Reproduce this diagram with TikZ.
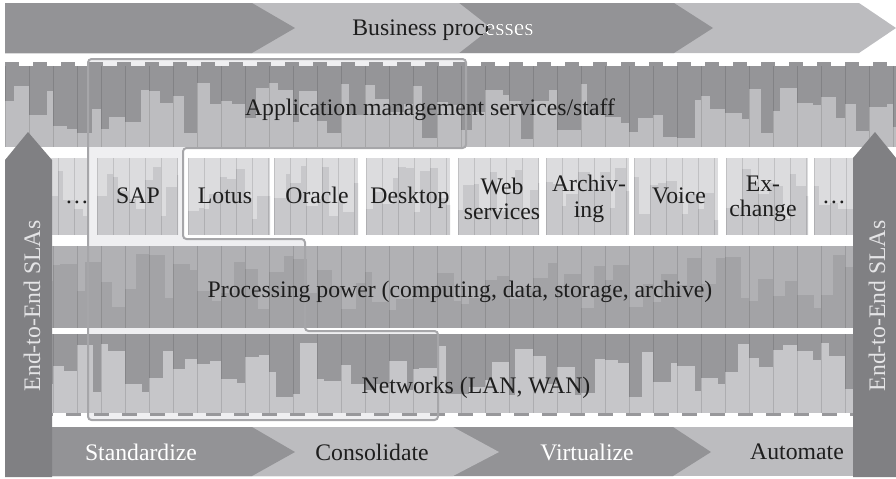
\documentclass[tikz,border=0pt]{standalone}
\usepackage{fontspec}
\setmainfont{Liberation Serif}
\usetikzlibrary{positioning}
\definecolor{ciDark}{HTML}{939396}
\definecolor{ciLight}{HTML}{BCBCBF}
\definecolor{ciSla}{HTML}{808083}
\definecolor{ciSlaText}{HTML}{E4E4E6}
\definecolor{ciHalo}{HTML}{EFEFF1}
\definecolor{ciFrame}{HTML}{A6A6A9}
\definecolor{ciAppL}{HTML}{BDBDC0}
\definecolor{ciAppD}{HTML}{959598}
\definecolor{ciProcL}{HTML}{B1B1B4}
\definecolor{ciProcD}{HTML}{A3A3A6}
\definecolor{ciNetD}{HTML}{98989B}
\definecolor{ciNetL}{HTML}{C6C6C9}
\definecolor{ciBoxL}{HTML}{DCDCDE}
\definecolor{ciBoxD}{HTML}{C8C8CB}
\definecolor{ciInk}{HTML}{1E1E1E}
\tikzset{
  ci-label/.style={font=\fontsize{13.5}{14.5}\selectfont, text=ciInk,
    align=center, inner sep=0pt},
  ci-label-w/.style={ci-label, text=white},
  ci-sla-text/.style={ci-label, text=ciSlaText, rotate=90},
  ci-sep/.style={draw=black, opacity=0.12, line width=0.35pt},
  ci-frame/.style={draw=ciFrame, line width=0.4mm, rounded corners=2}
}
% bars: x0, y0, x1, y1, bar colour, from bottom (1) or top (0), column width
\newcommand{\ciBars}[7]{%
  \begin{scope}
    \clip (#1,#2) rectangle (#3,#4);
    \pgfmathtruncatemacro{\nbars}{(#3-#1)/#7}
    \foreach \i in {0,...,\nbars}{
      \pgfmathsetmacro{\bxa}{#1+#7*\i}
      \pgfmathsetmacro{\bxm}{\bxa+0.25*#7+0.5*#7*rnd}
      \pgfmathsetmacro{\bxb}{\bxa+#7}
      \pgfmathsetmacro{\bys}{#6==1 ? #4 : #2}
      \pgfmathsetmacro{\bye}{#6==1 ? #2 : #4}
      \pgfmathsetmacro{\bha}{\bys+(0.2+0.7*rnd)*(\bye-\bys)}
      \pgfmathsetmacro{\bhb}{\bys+(0.2+0.7*rnd)*(\bye-\bys)}
      \fill[#5] (\bxa,\bys) rectangle (\bxm,\bha);
      \fill[#5] (\bxm,\bys) rectangle (\bxb,\bhb);
      \draw[ci-sep] (\bxa,#2) -- (\bxa,#4);
    }
  \end{scope}}

\begin{document}
\begin{tikzpicture}[x=0.2mm, y=-0.2mm]
\useasboundingbox (0,0) rectangle (896,478);
\pgfmathsetseed{42}
% Highlighted area
\fill[ciHalo] (88,59) -- (466,59) -- (466,148) -- (183,148) -- (183,239)
  -- (305,239) -- (305,331) -- (438,331) -- (438,420) -- (88,420) -- cycle;
% Business processes chevrons
\fill[ciLight] (5,3) -- (859,3) -- (896,28) -- (859,53) -- (5,53) -- cycle;
\fill[ciDark] (5,3) -- (674,3) -- (713,28) -- (674,53) -- (5,53) -- cycle;
\fill[ciLight] (5,3) -- (459,3) -- (491,28) -- (459,53) -- (5,53) -- cycle;
\fill[ciDark] (5,3) -- (252,3) -- (295,28) -- (252,53) -- (5,53) -- cycle;
% Application management band
\foreach \x in {5,33,...,880}{
  \fill[ciAppD] (\x,62) rectangle (\x+14,66);
}
\fill[ciAppL] (5,66) rectangle (896,147);
\ciBars{5}{66}{896}{147}{ciAppD}{0}{24}
% Applications
\foreach \xa/\xb in {42/87, 97/178, 188/270, 274/358, 366/450, 458/539,
  546/629, 634/718, 726/808, 814/870}{
  \fill[ciBoxL] (\xa,158) rectangle (\xb,235);
  \ciBars{\xa}{158}{\xb}{235}{ciBoxD}{1}{16}
}
% Processing power band
\fill[ciProcL] (5,246) rectangle (896,328);
\ciBars{5}{246}{896}{328}{ciProcD}{1}{24}
% Networks band
\fill[ciNetD] (5,334) rectangle (896,413);
\ciBars{5}{334}{896}{413}{ciNetL}{1}{24}
\foreach \x in {10,38,...,880}{
  \fill[ciNetD] (\x,413) rectangle (\x+15,416);
}
% Bottom chevrons
\fill[ciLight] (52,427) rectangle (896,476);
\fill[ciDark] (52,427) -- (673,427) -- (711,452) -- (673,476) -- (52,476) -- cycle;
\fill[ciLight] (52,427) -- (453,427) -- (499,452) -- (453,476) -- (52,476) -- cycle;
\fill[ciDark] (52,427) -- (252,427) -- (295,452) -- (252,476) -- (52,476) -- cycle;
% Highlight frame
\draw[ci-frame] (88,59) -- (466,59) -- (466,148) -- (183,148) -- (183,239)
  -- (305,239) -- (305,331) -- (438,331) -- (438,420) -- (88,420) -- cycle;
% SLA arrows
\fill[ciSla] (5,477) -- (5,160) -- (28,132) -- (52,160) -- (52,477) -- cycle;
\fill[ciSla] (853,477) -- (853,158) -- (875,132) -- (896,158) -- (896,477) -- cycle;
% Labels
\node[ci-label, anchor=base] (bp) at (443,35) {Business processes};
\begin{scope}
  \clip (459,3) -- (674,3) -- (713,28) -- (674,53) -- (459,53) -- (491,28) -- cycle;
  \node[ci-label-w, anchor=base] (bp-w) at (443,35) {Business processes};
\end{scope}
\node[ci-label, anchor=base] (ams) at (430,115) {Application management services/staff};
\foreach \tx/\nm/\txt in {77/dots-l/\dots, 138/sap/SAP, 225/lotus/Lotus,
  317/oracle/Oracle, 410/desktop/Desktop, 679/voice/Voice, 834/dots-r/\dots}{
  \node[ci-label, anchor=base] (app-\nm) at (\tx,203) {\txt};
}
\foreach \tx/\nm/\txt in {502/web/{Web\\services}, 589/arch/{Archiv-\\ing},
  763/exch/{Ex-\\change}}{
  \node[ci-label] (app-\nm) at (\tx,199) {\txt};
}
\node[ci-label, anchor=base] (proc) at (460,297)
  {Processing power (computing, data, storage, archive)};
\node[ci-label, anchor=base] (net) at (476,393) {Networks (LAN, WAN)};
\node[ci-label-w, anchor=base] (std) at (141,460) {Standardize};
\node[ci-label, anchor=base] (cons) at (372,460) {Consolidate};
\node[ci-label-w, anchor=base] (virt) at (587,460) {Virtualize};
\node[ci-label, anchor=base] (auto) at (797,459) {Automate};
\node[ci-sla-text] (sla-l) at (32,306) {End-to-End SLAs};
\node[ci-sla-text] (sla-r) at (877,306) {End-to-End SLAs};
\end{tikzpicture}
\end{document}
